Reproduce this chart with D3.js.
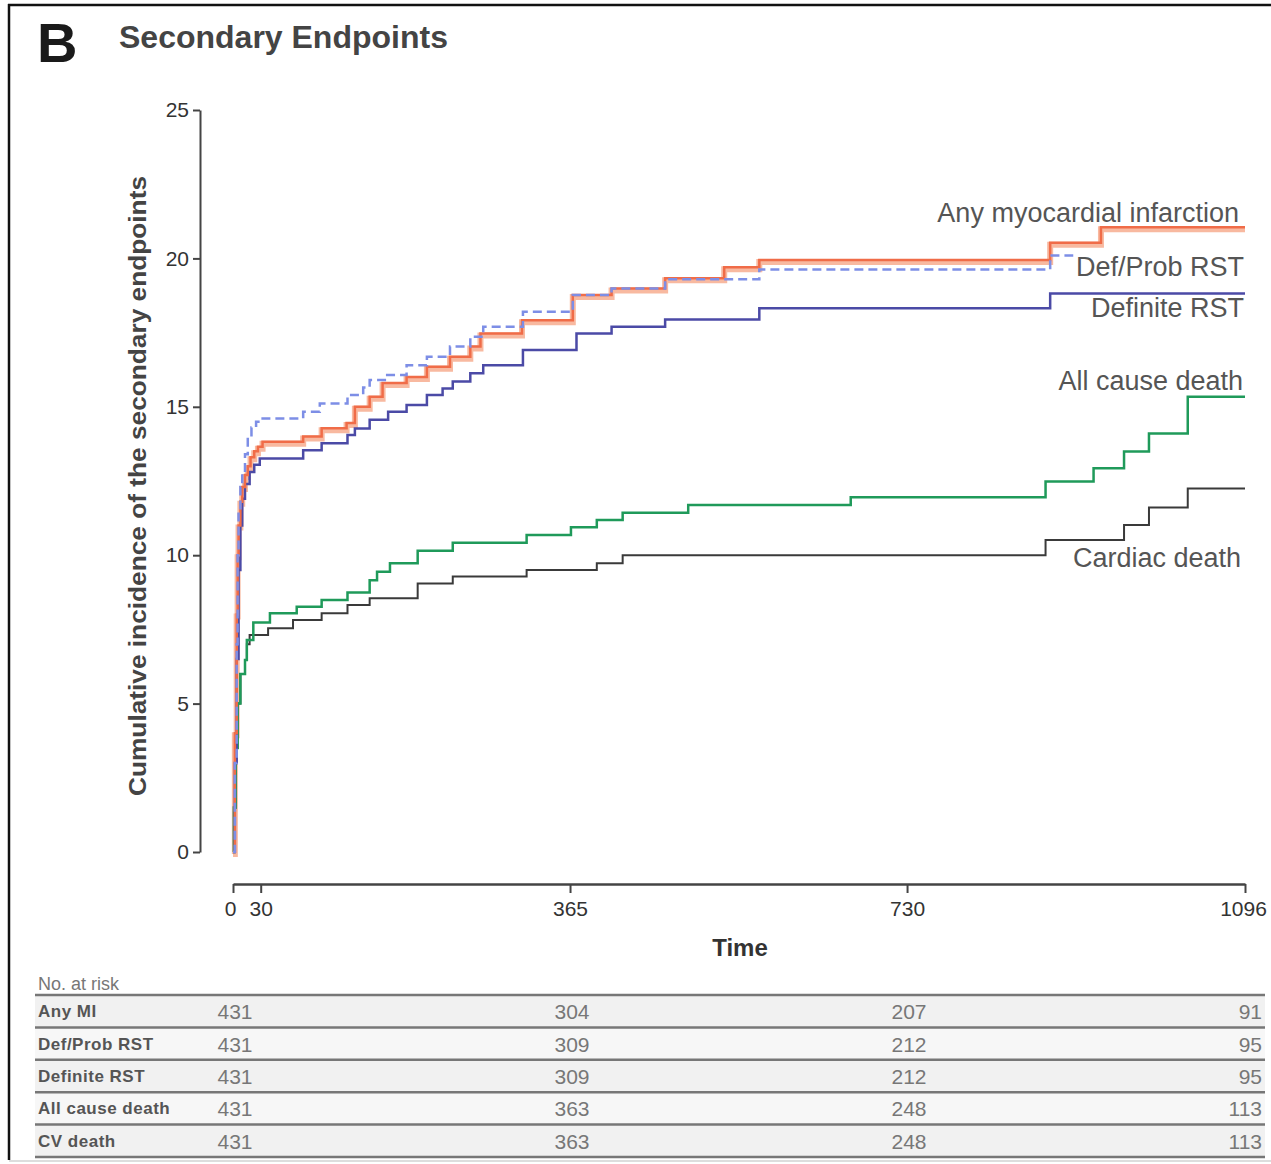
<!DOCTYPE html>
<html lang="en">
<head>
<meta charset="UTF-8">
<title>Secondary Endpoints</title>
<script src="https://d3js.org/d3.v7.min.js"></script>
<style>
    body { margin: 0; background: white; }
    svg { display: block; }
    .narrow { font-family: "Liberation Sans Narrow", "Arial Narrow", "Liberation Sans", Arial, sans-serif; }
</style>
</head>
<body>
<script>
    // ---------- data (day, cumulative % ; step after) ----------
    const anyMI = [[0,0],[2,4],[4,8],[5,10],[6,11],[8,11.8],[10,12.3],[13,12.7],[16,13],[19,13.3],[23,13.5],[27,13.65],[32,13.82],
        [76,14.0],[96,14.28],[123,14.45],[132,15.0],[148,15.34],[162,15.8],[188,16.0],[210,16.35],[235,16.69],[257,17.03],
        [268,17.47],[313,17.92],[368,18.77],[410,18.99],[468,19.33],[532,19.7],[570,19.95],[885,20.53],[940,21.05],[1096,21.05]];
    const defProbRST = [[0,0],[2,3],[4,7],[5,10],[6,11.5],[8,12.3],[10,12.8],[13,13.4],[16,14.0],[20,14.3],[25,14.5],[29,14.61],
        [76,14.83],[94,15.11],[124,15.4],[141,15.65],[148,15.9],[167,16.07],[188,16.4],[210,16.69],[235,17.03],[257,17.36],
        [271,17.7],[314,18.2],[368,18.77],[410,18.99],[468,19.3],[570,19.63],[885,20.1],[910,20.1]];
    const definiteRST = [[0,0],[2,3],[4,6.5],[6,9.5],[8,11],[10,11.9],[13,12.4],[18,12.8],[23,13.05],[29,13.26],[76,13.54],
        [96,13.77],[124,14.05],[132,14.27],[148,14.56],[168,14.83],[188,15.06],[210,15.4],[227,15.62],[238,15.85],[257,16.13],
        [271,16.4],[314,16.91],[372,17.47],[410,17.7],[468,17.94],[570,18.32],[885,18.82],[1096,18.82]];
    const allCauseDeath = [[0,0],[1,1.5],[3,3.5],[5,5],[8,6],[13,6.47],[15,7.14],[22,7.73],[40,8.04],[69,8.26],[96,8.49],
        [124,8.74],[148,9.16],[156,9.44],[170,9.73],[200,10.15],[238,10.42],[318,10.68],[366,10.94],[394,11.19],[422,11.43],
        [493,11.69],[669,11.95],[880,12.48],[932,12.93],[965,13.49],[992,14.1],[1034,15.34],[1096,15.34]];
    const cardiacDeath = [[0,0],[1,1.5],[3,3.5],[5,5],[8,6],[13,6.47],[15,7.0],[18,7.31],[38,7.54],[65,7.82],[96,8.04],
        [124,8.32],[148,8.55],[200,9.05],[238,9.28],[318,9.5],[394,9.73],[422,10.0],[880,10.51],[965,11.02],[992,11.61],
        [1034,12.25],[1096,12.25]];

    const yTicks = [0, 5, 10, 15, 20, 25];
    const xTicks = [0, 30, 365, 730, 1096];

    const riskRows = ["Any MI", "Def/Prob RST", "Definite RST", "All cause death", "CV death"];
    const riskDays = [0, 365, 730, 1096];
    const riskValues = [
        [431, 304, 207, 91],
        [431, 309, 212, 95],
        [431, 309, 212, 95],
        [431, 363, 248, 113],
        [431, 363, 248, 113]
    ];

    // ---------- svg ----------
    const W = 1271, H = 1164;
    const svg = d3.select("body").append("svg").attr("width", W).attr("height", H);

    // frame
    svg.append("line").attr("x1", 8).attr("x2", W).attr("y1", 5).attr("y2", 5).attr("stroke", "#111").attr("stroke-width", 2.5);
    svg.append("line").attr("x1", 9).attr("x2", 9).attr("y1", 4).attr("y2", 1160).attr("stroke", "#111").attr("stroke-width", 2.5);
    svg.append("line").attr("x1", 9).attr("x2", W).attr("y1", 1161).attr("y2", 1161).attr("stroke", "#ddd").attr("stroke-width", 2);

    // title
    svg.append("text").attr("x", 37).attr("y", 62).text("B")
        .style("font-family", "Liberation Sans, Arial, sans-serif").style("font-weight", "bold")
        .style("font-size", "56px").style("fill", "#1a1a1a");
    svg.append("text").attr("x", 119).attr("y", 48).text("Secondary Endpoints")
        .style("font-family", "Liberation Sans, Arial, sans-serif").style("font-weight", "bold")
        .style("font-size", "32px").style("fill", "#444");

    // scales
    const x = d3.scaleLinear().domain([0, 1096]).range([233, 1245]);
    const y = d3.scaleLinear().domain([0, 25]).range([852, 110]);

    // y axis
    const yAxis = svg.append("g").attr("transform", "translate(200,0)")
        .call(d3.axisLeft(y).tickValues(yTicks).tickSize(7).tickSizeOuter(0).tickPadding(4));
    yAxis.select(".domain").attr("stroke", "#444").attr("stroke-width", 2);
    yAxis.selectAll(".tick line").attr("stroke", "#444").attr("stroke-width", 2);
    yAxis.selectAll(".tick text").attr("class", "narrow").style("font-size", "21px")
        .style("fill", "#333");

    // x axis
    const xAxis = svg.append("g").attr("transform", "translate(0,884)")
        .call(d3.axisBottom(x).tickValues(xTicks).tickFormat(d3.format("d")).tickSize(9).tickSizeOuter(0).tickPadding(8));
    xAxis.select(".domain").attr("stroke", "#444").attr("stroke-width", 2.5);
    xAxis.selectAll(".tick line").attr("stroke", "#444").attr("stroke-width", 2);
    xAxis.selectAll(".tick text").attr("class", "narrow").style("font-size", "21px")
        .style("fill", "#333")
        .attr("dx", d => d === 0 ? -3 : (d === 1096 ? -2 : 0));

    svg.append("text").attr("class", "narrow").attr("x", 740).attr("y", 956).attr("text-anchor", "middle")
        .text("Time").style("font-size", "24px").style("font-weight", "bold").style("fill", "#333");

    svg.append("text").attr("transform", "translate(146,486) rotate(-90)").attr("text-anchor", "middle")
        .text("Cumulative incidence of the secondary endpoints")
        .attr("textLength", 620).attr("lengthAdjust", "spacingAndGlyphs")
        .style("font-family", "Liberation Sans, Arial, sans-serif").style("font-weight", "bold")
        .style("font-size", "24px").style("fill", "#444");

    // curves
    const line = d3.line().x(d => x(d[0])).y(d => y(d[1])).curve(d3.curveStepAfter);

    const series = [
        { data: cardiacDeath, color: "#3a3a3a", width: 2 },
        { data: allCauseDeath, color: "#1f9a5a", width: 2.5 },
        { data: definiteRST, color: "#4b4aa6", width: 2.5 },
    ];

    // any MI: salmon band with a darker top edge
    svg.append("path").datum(anyMI).attr("d", line).attr("fill", "none")
        .attr("stroke", "#f8b9a0").attr("stroke-width", 6).attr("transform", "translate(0,2)");

    series.forEach(s => {
        svg.append("path").datum(s.data).attr("d", line).attr("fill", "none")
            .attr("stroke", s.color).attr("stroke-width", s.width);
    });

    svg.append("path").datum(anyMI).attr("d", line).attr("fill", "none")
        .attr("stroke", "#f06c48").attr("stroke-width", 2.5);

    svg.append("path").datum(defProbRST).attr("d", line).attr("fill", "none")
        .attr("stroke", "#7d8ee6").attr("stroke-width", 2.5).attr("stroke-dasharray", "9,5");

    // curve labels
    const curveLabels = [
        { text: "Any myocardial infarction", x: 1239, y: 222 },
        { text: "Def/Prob RST", x: 1244, y: 276 },
        { text: "Definite RST", x: 1244, y: 317 },
        { text: "All cause death", x: 1243, y: 390 },
        { text: "Cardiac death", x: 1241, y: 567 }
    ];
    svg.selectAll(".clabel").data(curveLabels).enter().append("text")
        .attr("class", "narrow clabel").attr("x", d => d.x).attr("y", d => d.y).attr("text-anchor", "end")
        .text(d => d.text).style("font-size", "27px").style("fill", "#555");

    // ---------- number at risk table ----------
    const rowTop = 995, rowH = 32.4;
    svg.append("text").attr("x", 38).attr("y", 990).text("No. at risk")
        .style("font-family", "Liberation Sans, Arial, sans-serif").style("font-size", "18px").style("fill", "#777");

    const rows = svg.selectAll(".riskrow").data(riskRows).enter().append("g")
        .attr("transform", (d, i) => `translate(0,${rowTop + i * rowH})`);
    rows.append("rect").attr("x", 35).attr("y", 0).attr("width", 1230).attr("height", rowH)
        .attr("fill", (d, i) => i % 2 === 0 ? "#f1f1f1" : "#f7f7f7");
    rows.append("text").attr("x", 38).attr("y", rowH / 2 + 6).text(d => d)
        .style("font-family", "Liberation Sans, Arial, sans-serif").style("font-weight", "bold")
        .style("font-size", "17px").style("fill", "#555").style("letter-spacing", "0.5px");
    rows.each(function (d, i) {
        d3.select(this).selectAll(".val").data(riskValues[i]).enter().append("text")
            .attr("class", "narrow")
            .attr("x", (v, j) => j === 3 ? x(riskDays[j]) + 17 : x(riskDays[j]) + 2)
            .attr("text-anchor", (v, j) => j === 3 ? "end" : "middle")
            .attr("y", rowH / 2 + 8).text(v => v)
            .style("font-size", "21px").style("fill", "#777");
    });
    svg.selectAll(".rline").data(d3.range(riskRows.length + 1)).enter().append("line")
        .attr("x1", 35).attr("x2", 1265)
        .attr("y1", i => rowTop + i * rowH).attr("y2", i => rowTop + i * rowH)
        .attr("stroke", "#777").attr("stroke-width", 2.5);
</script>
</body>
</html>
